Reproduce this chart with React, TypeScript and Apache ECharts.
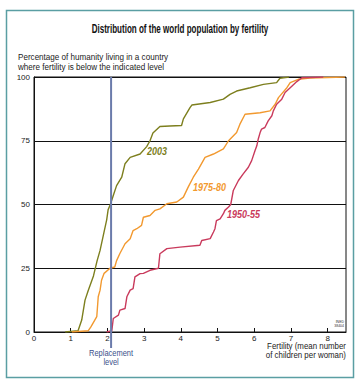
import React, { useEffect, useRef } from "react";
import * as echarts from "echarts";

const xTicks = [0, 1, 2, 3, 4, 5, 6, 7, 8];
const yTicks = [0, 25, 50, 75, 100];

const fert2003 = [0.85, 1.2, 1.3, 1.39, 1.48, 1.62, 1.72, 1.8, 1.89, 1.98, 2.02, 2.08, 2.16, 2.25, 2.39, 2.48, 2.62, 2.89, 3.07, 3.16, 3.24, 3.43, 3.7, 4.02, 4.07, 4.25, 4.3, 4.8, 5.16, 5.34, 5.52, 5.89, 6.25, 6.61, 6.7, 6.95];
const pct2003 = [0, 0.5, 4.7, 12.5, 16.4, 22, 28, 32, 38, 44, 48, 50, 53.5, 57.4, 60.7, 66, 68.5, 69.8, 72.7, 75, 78, 80.6, 80.8, 81, 83.6, 88, 89, 90, 91.3, 93.2, 94.5, 95.8, 97.1, 97.8, 99.5, 100];

const fert1975 = [1.03, 1.48, 1.55, 1.71, 1.75, 1.8, 1.84, 1.91, 2.07, 2.2, 2.25, 2.34, 2.48, 2.62, 2.7, 2.8, 2.93, 2.98, 3.16, 3.3, 3.43, 3.62, 3.89, 4.07, 4.2, 4.34, 4.48, 4.66, 4.89, 5.16, 5.3, 5.52, 5.61, 5.75, 6.16, 6.43, 6.57, 6.66, 6.89, 6.98, 7.2, 7.52, 8.47];
const pct1975 = [0, 0.5, 2, 6, 13.8, 16.4, 20.3, 23, 25, 25.5, 28, 30.8, 34.6, 36.6, 39.8, 40.5, 41.8, 45, 45.7, 47.7, 48.3, 50.3, 51, 52.9, 56.8, 60.7, 63.9, 68.5, 69.8, 71.8, 75, 78.2, 81.5, 85.4, 86, 86.7, 89.3, 91.9, 95.8, 97.8, 99.1, 99.6, 100];

const fert1950 = [1.98, 2.12, 2.16, 2.3, 2.34, 2.48, 2.53, 2.62, 2.7, 2.75, 2.89, 2.98, 3.16, 3.39, 3.43, 3.62, 3.98, 4.52, 4.57, 4.8, 4.89, 4.93, 4.97, 5.07, 5.16, 5.2, 5.3, 5.36, 5.43, 5.57, 5.7, 5.84, 5.93, 6.02, 6.07, 6.11, 6.16, 6.2, 6.29, 6.38, 6.48, 6.52, 6.61, 6.75, 6.84, 6.98, 7.16, 7.3, 7.88];
const pct1950 = [0, 0.5, 5.3, 6.6, 8.6, 9.2, 13.8, 16.4, 17, 21.6, 22.9, 23, 24.2, 25, 30.7, 32.7, 33.3, 34, 35.9, 36.6, 39.2, 40.5, 43.7, 44.4, 46.4, 47.7, 49, 50, 55.5, 59.4, 62, 64.6, 67.2, 71.1, 73, 75.7, 78.2, 79.6, 80.2, 82.8, 84.8, 86.7, 89.3, 91.3, 93.9, 95.8, 98.2, 99.7, 100];

const seriesNames = ["2003", "1975-80", "1950-55"];
const seriesColors = ["#7d7f1e", "#f2992f", "#c93a5c"];
const labelPos = [
  [3.08, 70.7],
  [4.33, 56.6],
  [5.26, 46],
];
const replacementLevel = 2.1;

const zip = (xs: number[], ys: number[]) => xs.map((x, i) => [x, ys[i]]);

export default function App() {
  const ref = useRef<HTMLDivElement>(null);
  useEffect(() => {
    const chart = echarts.init(ref.current!, null, { renderer: "svg" });
    const font = "'Liberation Sans', Arial, sans-serif";
    const datasets = [zip(fert2003, pct2003), zip(fert1975, pct1975), zip(fert1950, pct1950)];
    chart.setOption({
      animation: false,
      backgroundColor: "#ffffff",
      grid: { left: 34, right: 13, top: 77, bottom: 51, show: true, borderColor: "#111", borderWidth: 1 },
      xAxis: {
        type: "value",
        min: 0,
        max: 8.5,
        interval: 1,
        axisLine: { show: true, lineStyle: { color: "#111", width: 1 } },
        axisTick: { show: true, inside: true, length: 4, lineStyle: { color: "#111" } },
        axisLabel: {
          color: "#222",
          fontSize: 8,
          fontFamily: font,
          margin: 2,
          showMaxLabel: false,
          formatter: (v: number) => (xTicks.includes(v) ? String(v) : ""),
        },
        splitLine: { show: false },
      },
      yAxis: {
        type: "value",
        min: 0,
        max: 100,
        interval: 25,
        axisLine: { show: true, lineStyle: { color: "#111" } },
        axisTick: { show: false },
        axisLabel: {
          color: "#222",
          fontSize: 8,
          fontFamily: font,
          margin: 4,
          formatter: (v: number) => (yTicks.includes(v) ? String(v) : ""),
        },
        splitLine: { show: true, lineStyle: { color: "#111", width: 1 } },
      },
      series: datasets.map((d, i) => ({
        type: "line",
        name: seriesNames[i],
        data: d,
        showSymbol: false,
        z: 3 + i,
        lineStyle: { color: seriesColors[i], width: 1.4 },
      })),
    });

    const [rx, rTop] = chart.convertToPixel({ gridIndex: 0 }, [replacementLevel, 100]);
    const labels = labelPos.map((p, i) => {
      const [px, py] = chart.convertToPixel({ gridIndex: 0 }, p);
      return {
        type: "text",
        x: px,
        y: py,
        z: 10,
        scaleX: 0.9,
        style: {
          text: seriesNames[i],
          fill: seriesColors[i],
          font: `italic bold 10px ${font}`,
          textVerticalAlign: "middle",
        },
      };
    });

    chart.setOption({
      graphic: [
        {
          type: "rect",
          shape: { x: 6.5, y: 10.5, width: 347, height: 367 },
          style: { fill: "none", stroke: "#5a9ea3", lineWidth: 1.5 },
          z: 0,
        },
        {
          type: "text",
          x: 180,
          y: 29,
          scaleX: 0.67,
          style: {
            text: "Distribution of the world population by fertility",
            font: `bold 12px ${font}`,
            fill: "#111",
            textAlign: "center",
            textVerticalAlign: "middle",
          },
        },
        {
          type: "text",
          x: 18,
          y: 62,
          scaleX: 0.9,
          style: {
            text: "Percentage of humanity living in a country\nwhere fertility is below the indicated level",
            font: `9px ${font}`,
            lineHeight: 10,
            fill: "#222",
            textVerticalAlign: "middle",
          },
        },
        {
          type: "line",
          z: 8,
          shape: { x1: rx, y1: rTop, x2: rx, y2: 348 },
          style: { stroke: "#6b7bab", lineWidth: 2 },
        },
        {
          type: "text",
          x: rx,
          y: 358,
          scaleX: 0.88,
          style: {
            text: "Replacement\nlevel",
            font: `8.5px ${font}`,
            lineHeight: 9.5,
            fill: "#3a4f8a",
            textAlign: "center",
            textVerticalAlign: "middle",
          },
        },
        {
          type: "text",
          x: 346,
          y: 351,
          scaleX: 0.93,
          style: {
            text: "Fertility (mean number\nof children per woman)",
            font: `8.5px ${font}`,
            lineHeight: 9.5,
            fill: "#222",
            textAlign: "right",
            textVerticalAlign: "middle",
          },
        },
        {
          type: "text",
          x: 344,
          y: 324,
          style: {
            text: "INED\n38404",
            font: `3.5px ${font}`,
            lineHeight: 4,
            fill: "#333",
            textAlign: "right",
            textVerticalAlign: "middle",
          },
        },
        ...labels,
      ],
    });
    return () => chart.dispose();
  }, []);
  return (
    <div
      ref={ref}
      style={{ position: "fixed", left: 0, top: 0, width: 359, height: 383, background: "#fff" }}
    />
  );
}
